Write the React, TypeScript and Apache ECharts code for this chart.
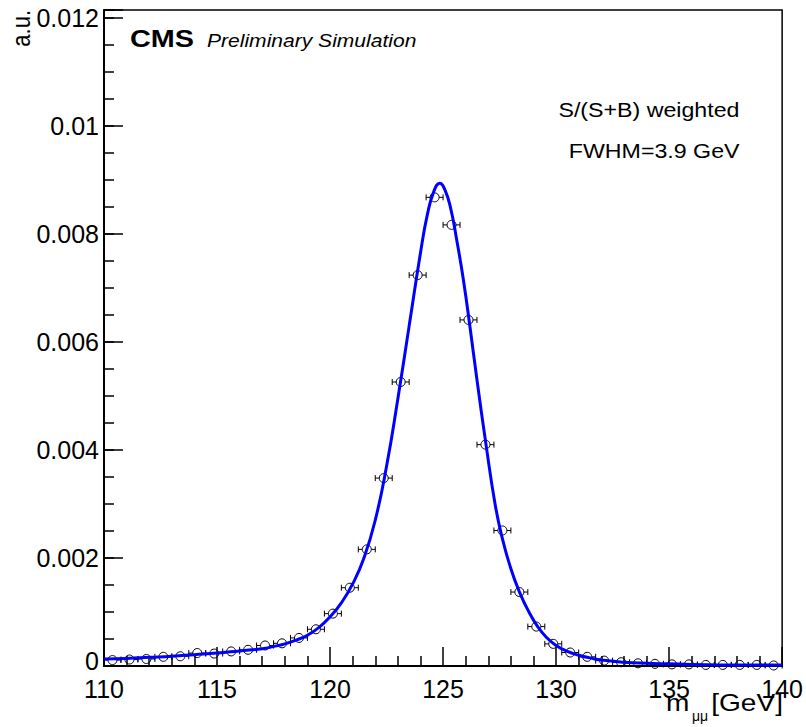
import React, { useEffect, useRef } from "react";
import * as echarts from "echarts";

// ---- data ----
const binCenters = [
  110.375, 111.125, 111.875, 112.625, 113.375, 114.125, 114.875, 115.625, 116.375, 117.125,
  117.875, 118.625, 119.375, 120.125, 120.875, 121.625, 122.375, 123.125, 123.875, 124.625,
  125.375, 126.125, 126.875, 127.625, 128.375, 129.125, 129.875, 130.625, 131.375, 132.125,
  132.875, 133.625, 134.375, 135.125, 135.875, 136.625, 137.375, 138.125, 138.875, 139.625,
];
const binHalfWidth = 0.375;
const pointValues = [
  0.00011, 0.00012, 0.00013, 0.00017, 0.00018, 0.00024, 0.00023, 0.00027, 0.0003, 0.00038,
  0.00042, 0.00052, 0.00068, 0.00097, 0.00145, 0.00216, 0.00348, 0.00526, 0.00724, 0.00868,
  0.00817, 0.00641, 0.0041, 0.00251, 0.00137, 0.00073, 0.00041, 0.00025, 0.00017, 0.0001,
  0.00007, 0.00005, 0.00004, 0.00003, 0.00003, 0.00002, 0.00002, 0.00002, 0.00002, 0.00001,
];
const curveX = [
  110, 111, 112, 113, 114, 115, 116, 117, 117.5, 118, 118.5, 119, 119.5, 120, 120.5, 121, 121.5,
  122, 122.5, 123, 123.5, 124, 124.3, 124.6, 124.85, 125.1, 125.35, 125.6, 125.9, 126.2, 126.5,
  126.9, 127.3, 127.6, 128, 128.4, 128.8, 129.2, 129.6, 130, 130.5, 131, 131.5, 132, 133, 134,
  135, 136, 138, 140,
];
const curveY = [
  0.00013, 0.00014, 0.00016, 0.00018, 0.00021, 0.00024, 0.00028, 0.00032, 0.00036, 0.00041,
  0.00048, 0.00057, 0.00071, 0.00091, 0.00117, 0.00152, 0.002, 0.0027, 0.0037, 0.00495, 0.0063,
  0.00765, 0.00835, 0.0088, 0.00894, 0.0088, 0.00845, 0.0079, 0.00715, 0.00625, 0.0053, 0.0041,
  0.003, 0.0024, 0.0018, 0.00135, 0.001, 0.00072, 0.00052, 0.00038, 0.00027, 0.0002, 0.00015,
  0.00011, 0.00007, 0.00005, 0.00004, 0.00003, 0.00002, 0.00002,
];
const xTicks = { min: 110, max: 140, interval: 5 };
const yTicks = { min: 0, max: 0.01215, interval: 0.002, minorInterval: 0.0005 };

const FONT = "'Liberation Sans', Arial, Helvetica, sans-serif";

export default function App() {
  const ref = useRef<HTMLDivElement>(null);
  useEffect(() => {
    const chart = echarts.init(ref.current!, null, { renderer: "svg" });
    const axisLine = { show: true, lineStyle: { color: "#000", width: 2 } };
    const option: any = {
      animation: false,
      backgroundColor: "#fff",
      grid: {
        left: 104,
        right: 23,
        top: 10,
        bottom: 61,
        show: true,
        borderColor: "#000",
        borderWidth: 1.5,
        backgroundColor: "transparent",
      },
      xAxis: {
        type: "value",
        min: xTicks.min,
        max: xTicks.max,
        interval: xTicks.interval,
        axisLine,
        axisTick: { show: true, inside: true, length: 19, lineStyle: { color: "#000", width: 1.5 } },
        minorTick: { show: true, splitNumber: 5, length: 10, lineStyle: { color: "#000", width: 1.5 } },
        splitLine: { show: false },
        minorSplitLine: { show: false },
        axisLabel: { fontFamily: FONT, fontSize: 25, color: "#000", margin: 10 },
      },
      yAxis: [
        {
          type: "value",
          position: "left",
          min: yTicks.min,
          max: yTicks.max,
          interval: yTicks.interval,
          axisLine,
          axisTick: { show: true, inside: true, length: 19, lineStyle: { color: "#000", width: 1.5 } },
          splitLine: { show: false },
          axisLabel: {
            fontFamily: FONT,
            fontSize: 25,
            color: "#000",
            margin: 5,
            showMaxLabel: true,
            formatter: (v: number) => {
              const k = Math.round(v / yTicks.interval);
              if (Math.abs(v - k * yTicks.interval) > 1e-9) return "";
              return v === 0 ? "{zero|0}" : String(+(k * yTicks.interval).toFixed(4));
            },
            rich: {
              zero: { fontFamily: FONT, fontSize: 25, color: "#000", padding: [0, 0, 10, 0] },
            },
          },
        },
        {
          type: "value",
          position: "left",
          min: yTicks.min,
          max: yTicks.max,
          interval: yTicks.minorInterval,
          axisLine: { show: false },
          axisTick: { show: true, inside: true, length: 10, lineStyle: { color: "#000", width: 1.5 } },
          splitLine: { show: false },
          axisLabel: { show: false },
        },
      ],
      graphic: [
        {
          type: "text",
          x: 130,
          y: 38.4,
          scaleX: 1.2,
          style: { text: "CMS", font: `bold 24px ${FONT}`, fill: "#000", align: "left", verticalAlign: "middle" },
        },
        {
          type: "text",
          x: 207,
          y: 40.5,
          scaleX: 1.17,
          style: { text: "Preliminary Simulation", font: `italic 18px ${FONT}`, fill: "#000", align: "left", verticalAlign: "middle" },
        },
        {
          type: "text",
          x: 739.5,
          y: 110.4,
          scaleX: 1.16,
          style: { text: "S/(S+B) weighted", font: `20px ${FONT}`, fill: "#000", align: "right", verticalAlign: "middle" },
        },
        {
          type: "text",
          x: 739.5,
          y: 151.4,
          scaleX: 1.16,
          style: { text: "FWHM=3.9 GeV", font: `20px ${FONT}`, fill: "#000", align: "right", verticalAlign: "middle" },
        },
        {
          type: "text",
          x: 666,
          y: 703.2,
          scaleX: 1.17,
          style: { text: "m", font: `24px ${FONT}`, fill: "#000", align: "left", verticalAlign: "middle" },
        },
        {
          type: "text",
          x: 692,
          y: 716,
          style: { text: "μμ", font: `14px ${FONT}`, fill: "#000", align: "left", verticalAlign: "middle" },
        },
        {
          type: "text",
          x: 783,
          y: 703.2,
          scaleX: 1.17,
          style: { text: "[GeV]", font: `24px ${FONT}`, fill: "#000", align: "right", verticalAlign: "middle" },
        },
        {
          type: "text",
          x: 21,
          y: 10,
          rotation: Math.PI / 2,
          scaleY: 1.17,
          style: { text: "a.u.", font: `22px ${FONT}`, fill: "#000", align: "right", verticalAlign: "middle" },
        },
      ],
      series: [
        {
          type: "custom",
          xAxisIndex: 0,
          yAxisIndex: 0,
          clip: false,
          z: 3,
          data: binCenters.map((x, i) => [x, pointValues[i]]),
          renderItem: (params: any, api: any) => {
            const x = api.value(0) as number;
            const y = api.value(1) as number;
            const c = api.coord([x, y]);
            const l = api.coord([x - binHalfWidth, y]);
            const r = api.coord([x + binHalfWidth, y]);
            const R = 4.5;
            const cap = 3;
            const st = { stroke: "#000", lineWidth: 1 };
            return {
              type: "group",
              children: [
                { type: "line", shape: { x1: l[0], y1: c[1], x2: c[0] - R, y2: c[1] }, style: st },
                { type: "line", shape: { x1: c[0] + R, y1: c[1], x2: r[0], y2: c[1] }, style: st },
                { type: "line", shape: { x1: l[0], y1: c[1] - cap, x2: l[0], y2: c[1] + cap }, style: st },
                { type: "line", shape: { x1: r[0], y1: c[1] - cap, x2: r[0], y2: c[1] + cap }, style: st },
                { type: "circle", shape: { cx: c[0], cy: c[1], r: R }, style: { stroke: "#000", fill: "none", lineWidth: 1 } },
              ],
            };
          },
        },
        {
          type: "line",
          xAxisIndex: 0,
          yAxisIndex: 0,
          z: 5,
          data: curveX.map((x, i) => [x, curveY[i]]),
          showSymbol: false,
          symbol: "none",
          smooth: 0.5,
          lineStyle: { color: "#0000ff", width: 3 },
          itemStyle: { color: "#0000ff" },
          clip: true,
        },
      ],
    };
    chart.setOption(option);
    return () => chart.dispose();
  }, []);
  return (
    <div
      ref={ref}
      style={{ position: "absolute", left: 0, top: 0, width: 806, height: 727, background: "#fff" }}
    />
  );
}
